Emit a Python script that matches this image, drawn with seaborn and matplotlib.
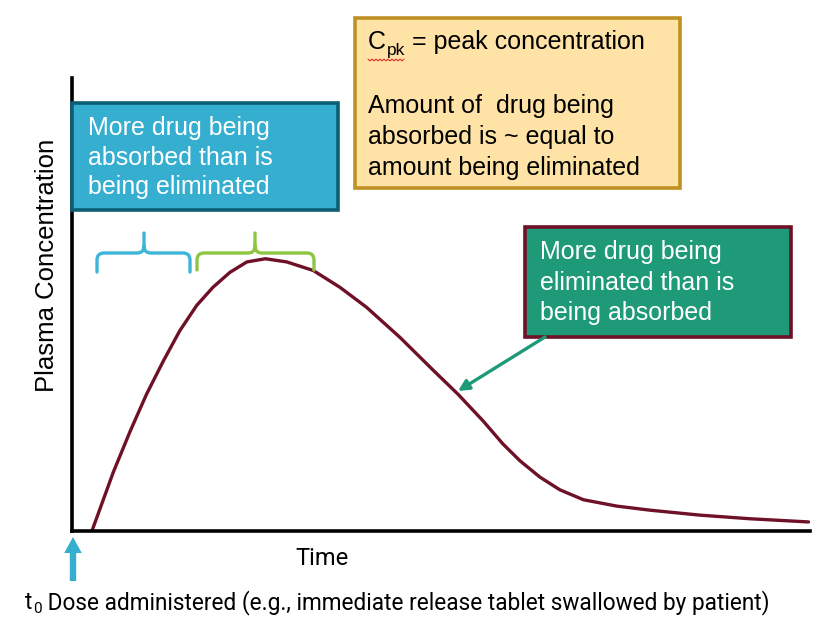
import numpy as np
import pandas as pd
import matplotlib
matplotlib.use("Agg")
import matplotlib.pyplot as plt
import seaborn as sns
from matplotlib.path import Path
from matplotlib.patches import PathPatch, Rectangle, FancyArrowPatch, ArrowStyle

# ---- data (curve, arbitrary units) ----
time = [0.27, 0.56, 0.79, 1.01, 1.24, 1.46, 1.69, 1.91, 2.14, 2.37, 2.62, 2.91,
        3.27, 3.63, 3.99, 4.44, 4.90, 5.23, 5.57, 5.84, 6.07, 6.34, 6.61, 6.93,
        7.38, 7.83, 8.51, 9.19, 9.98]
conc = [0.00, 1.30, 2.21, 3.02, 3.76, 4.42, 4.98, 5.38, 5.71, 5.94, 6.01, 5.94,
        5.75, 5.38, 4.94, 4.28, 3.54, 3.02, 2.43, 1.92, 1.55, 1.19, 0.91, 0.69,
        0.55, 0.46, 0.35, 0.27, 0.20]

x_label = "Time"
y_label = "Plasma Concentration"
dose_main = "t"
dose_sub = "0"
dose_rest = " Dose administered (e.g., immediate release tablet swallowed by patient)"
absorb_lines = ["More drug being", "absorbed than is", "being eliminated"]
elim_lines = ["More drug being", "eliminated than is", "being absorbed"]
peak_main = "C"
peak_sub = "pk"
peak_rest = " = peak concentration"
equal_lines = ["Amount of  drug being", "absorbed is ~ equal to", "amount being eliminated"]

# ---- colours ----
curve_col = "#6E1127"
cyan_fill, cyan_edge = "#36AED0", "#0B5F73"
yel_fill, yel_edge = "#FEE2A6", "#BF9022"
grn_fill, grn_edge = "#1E9A78", "#6E1127"
blue_br, green_br = "#3DB5D8", "#8DC641"

sns.set_theme(style="white")
plt.rcParams['font.family'] = ['Liberation Sans', 'DejaVu Sans']
plt.rcParams['text.color'] = 'black'

W, H = 825, 621
fig = plt.figure(figsize=(W / 100, H / 100), dpi=100)
fig.patch.set_facecolor("white")

# main data axes
ax = fig.add_axes([72 / W, (H - 531) / H, 738 / W, 453 / H])
sns.lineplot(x=time, y=conc, ax=ax, color=curve_col, linewidth=2.4)
for ln in ax.lines:
    ln.set_solid_joinstyle("round")
    ln.set_solid_capstyle("round")
ax.set_xlim(0, 10)
ax.set_ylim(0, 10)
ax.set_xticks([])
ax.set_yticks([])
ax.set_xlabel("")
ax.set_ylabel("")
ax.set_facecolor("none")
for s in ["top", "right"]:
    ax.spines[s].set_visible(False)
for s in ["left", "bottom"]:
    ax.spines[s].set_linewidth(2.6)
    ax.spines[s].set_color("black")
    ax.spines[s].set_capstyle("projecting")

# overlay axes in pixel coordinates (y downwards)
ov = fig.add_axes([0, 0, 1, 1])
ov.set_xlim(0, W)
ov.set_ylim(H, 0)
ov.axis("off")
ov.patch.set_alpha(0)

renderer = fig.canvas.get_renderer()

def text_px(x, y, s, size, color="black", family=None, **kw):
    t = ov.text(x, y, s, fontsize=size, color=color, va="baseline", ha="left",
                family=family if family else ['Liberation Sans', 'DejaVu Sans'], **kw)
    bb = t.get_window_extent(renderer)
    return t, bb.x1

# axis labels
ov.text(47, 265, y_label, rotation=90, fontsize=18.5, ha="center", va="center",
        color="black")
ov.text(322, 565, x_label, fontsize=17, ha="center", va="baseline", color="black",
        family=["Roboto", "DejaVu Sans"])

# dose text at the bottom
_, xe = text_px(25, 609, dose_main, 16.3, family=["Roboto", "DejaVu Sans"])
_, xe = text_px(xe + 0.5, 613, dose_sub, 11, family=["Roboto", "DejaVu Sans"])
text_px(xe, 609, dose_rest, 16.3, family=["Roboto", "DejaVu Sans"])

# blue dose arrow
ov.add_patch(FancyArrowPatch((73, 581), (73, 537),
                             arrowstyle=ArrowStyle.Simple(head_length=1.0, head_width=1.1,
                                                          tail_width=0.4),
                             mutation_scale=11.5, lw=0, color=cyan_fill,
                             shrinkA=0, shrinkB=0))

# cyan box
ov.add_patch(Rectangle((72, 103), 266, 107, facecolor=cyan_fill,
                       edgecolor=cyan_edge, lw=2.6, zorder=3))
for yb, s in zip([135, 165, 194], absorb_lines):
    ov.text(88, yb, s, fontsize=18, color="white", va="baseline", zorder=4)

# yellow box
ov.add_patch(Rectangle((355, 18), 325, 170, facecolor=yel_fill,
                       edgecolor=yel_edge, lw=2.6, zorder=3))
t1, xe = text_px(368, 49, peak_main, 18, zorder=4)
_, xe2 = text_px(xe + 1, 55, peak_sub, 12.5, zorder=4)
text_px(xe2, 49, peak_rest, 18, zorder=4)
# spell-check squiggle
sq_x = np.arange(368, xe2, 2.0)
sq_y = 60 + np.where(np.arange(len(sq_x)) % 2 == 0, -0.9, 0.9)
ov.plot(sq_x, sq_y, color="#E0302A", lw=0.8, zorder=5)
for yb, s in zip([113, 144, 175], equal_lines):
    ov.text(368, yb, s, fontsize=18, color="black", va="baseline", zorder=4)

# green box
ov.add_patch(Rectangle((525, 227), 266, 110, facecolor=grn_fill,
                       edgecolor=grn_edge, lw=2.6, zorder=3))
for yb, s in zip([259, 290, 320], elim_lines):
    ov.text(540, yb, s, fontsize=18, color="white", va="baseline", zorder=4)

# green arrow pointing at curve
ov.add_patch(FancyArrowPatch((545, 337), (458, 391), arrowstyle="-|>",
                             mutation_scale=16, lw=2.4, color=grn_fill, zorder=4,
                             shrinkA=0, shrinkB=0))

# curly brackets
def bracket(x0, x1, xc, yh, yb, yt, r, color):
    verts = [(x0, yb), (x0, yh + r), (x0, yh), (x0 + r, yh), (xc - r, yh),
             (xc, yh), (xc, yh - r), (xc, yt),
             (xc, yh - r), (xc, yh), (xc + r, yh), (x1 - r, yh),
             (x1, yh), (x1, yh + r), (x1, yb)]
    codes = [Path.MOVETO, Path.LINETO, Path.CURVE3, Path.CURVE3, Path.LINETO,
             Path.CURVE3, Path.CURVE3, Path.LINETO,
             Path.MOVETO, Path.CURVE3, Path.CURVE3, Path.LINETO,
             Path.CURVE3, Path.CURVE3, Path.LINETO]
    ov.add_patch(PathPatch(Path(verts, codes), facecolor="none",
                           edgecolor=color, lw=2.4, capstyle="round",
                           joinstyle="round"))

bracket(97, 190, 144, 253, 272, 233, 7, blue_br)
bracket(197, 314, 255, 253, 270, 233, 7, green_br)

fig.savefig("out.png", dpi=100)
